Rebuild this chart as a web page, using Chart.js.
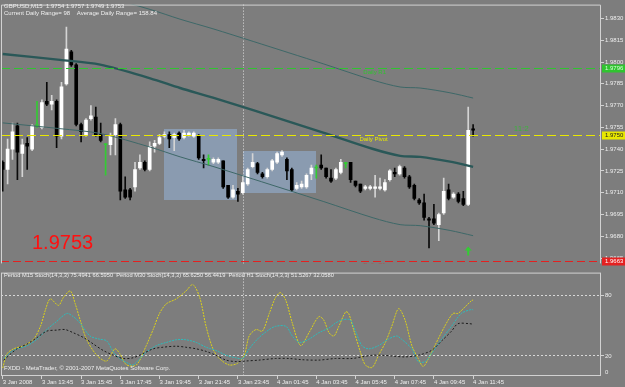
<!DOCTYPE html>
<html><head><meta charset="utf-8">
<script src="https://cdn.jsdelivr.net/npm/chart.js@4/dist/chart.umd.min.js"></script>
<style>
html,body{margin:0;padding:0;background:#7d7d7d;width:625px;height:387px;overflow:hidden}
#main{position:absolute;left:0;top:0}
#ind{position:absolute;left:0;top:268px}
</style></head><body>
<canvas id="main" width="625" height="268"></canvas>
<canvas id="ind" width="625" height="119"></canvas>
<script>
// ---------- DATA ----------
const symbol = 'GBPUSD,M15';
const rangeText = 'Current Daily Range= 98    Average Daily Range= 158.84';
const opens  = [1.9731,1.9726,1.9740,1.9756,1.9737,1.9744,1.9740,1.9756,1.9755,1.9773,1.9771,1.9773,1.9749,1.9785,1.9807,1.9798,1.9757,1.9750,1.9761,1.9762,1.9750,1.9743,1.9743,1.9750,1.9757,1.9712,1.9712,1.9714,1.9727,1.9731,1.9726,1.9742,1.9744,1.9749,1.9750,1.9748,1.9751,1.9748,1.9750,1.9749,1.9749,1.9733,1.9733,1.9731,1.9731,1.9732,1.9715,1.9707,1.9711,1.9710,1.9716,1.9728,1.9730,1.9723,1.9721,1.9726,1.9731,1.9736,1.9733,1.9726,1.9713,1.9714,1.9714,1.9723,1.9727,1.9729,1.9727,1.9720,1.9720,1.9724,1.9730,1.9731,1.9718,1.9716,1.9713,1.9713,1.9713,1.9713,1.9712,1.9719,1.9724,1.9723,1.9727,1.9721,1.9715,1.9705,1.9703,1.9692,1.9692,1.9688,1.9696,1.9712,1.9707,1.9709,1.9706,1.9702,1.9754];
const highs  = [1.9732,1.9747,1.9758,1.9758,1.9747,1.9748,1.9757,1.9773,1.9774,1.9786,1.9777,1.9774,1.9786,1.9824,1.9808,1.9799,1.9758,1.9761,1.9770,1.9769,1.9758,1.9744,1.9751,1.9761,1.9758,1.9721,1.9713,1.9731,1.9736,1.9732,1.9745,1.9746,1.9750,1.9752,1.9752,1.9751,1.9752,1.9753,1.9752,1.9752,1.9750,1.9736,1.9736,1.9734,1.9734,1.9732,1.9715,1.9715,1.9713,1.9722,1.9727,1.9737,1.9731,1.9724,1.9727,1.9733,1.9738,1.9739,1.9734,1.9727,1.9717,1.9718,1.9723,1.9729,1.9729,1.9736,1.9727,1.9726,1.9727,1.9733,1.9731,1.9731,1.9718,1.9716,1.9715,1.9715,1.9722,1.9720,1.9719,1.9726,1.9727,1.9729,1.9728,1.9722,1.9716,1.9706,1.9709,1.9693,1.9702,1.9696,1.9720,1.9716,1.9710,1.9710,1.9711,1.9769,1.9757];
const lows   = [1.9711,1.9716,1.9733,1.9719,1.9721,1.9726,1.9739,1.9755,1.9754,1.9770,1.9767,1.9741,1.9747,1.9784,1.9797,1.9756,1.9745,1.9749,1.9760,1.9749,1.9745,1.9722,1.9736,1.9736,1.9705,1.9706,1.9705,1.9711,1.9726,1.9725,1.9725,1.9738,1.9743,1.9748,1.9741,1.9739,1.9746,1.9747,1.9749,1.9748,1.9733,1.9727,1.9729,1.9730,1.9730,1.9713,1.9706,1.9706,1.9704,1.9709,1.9715,1.9727,1.9723,1.9720,1.9720,1.9725,1.9730,1.9735,1.9719,1.9711,1.9712,1.9713,1.9713,1.9719,1.9720,1.9726,1.9720,1.9717,1.9719,1.9723,1.9727,1.9717,1.9714,1.9710,1.9712,1.9712,1.9707,1.9712,1.9711,1.9718,1.9721,1.9722,1.9720,1.9713,1.9705,1.9702,1.9691,1.9672,1.9688,1.9677,1.9695,1.9705,1.9706,1.9703,1.9701,1.9701,1.9749];
const closes = [1.9726,1.9740,1.9752,1.9738,1.9743,1.9742,1.9756,1.9756,1.9772,1.9771,1.9773,1.9749,1.9783,1.9809,1.9798,1.9757,1.9752,1.9760,1.9763,1.9750,1.9746,1.9743,1.9749,1.9757,1.9711,1.9707,1.9707,1.9726,1.9731,1.9726,1.9742,1.9744,1.9748,1.9750,1.9747,1.9750,1.9747,1.9751,1.9751,1.9751,1.9734,1.9732,1.9733,1.9733,1.9733,1.9714,1.9707,1.9712,1.9709,1.9717,1.9726,1.9731,1.9724,1.9721,1.9726,1.9732,1.9737,1.9738,1.9725,1.9712,1.9715,1.9716,1.9722,1.9727,1.9727,1.9727,1.9721,1.9718,1.9726,1.9731,1.9730,1.9719,1.9715,1.9711,1.9714,1.9714,1.9714,1.9714,1.9717,1.9725,1.9723,1.9728,1.9721,1.9714,1.9706,1.9703,1.9693,1.9691,1.9689,1.9695,1.9711,1.9706,1.9709,1.9704,1.9702,1.9753,1.9753];

const timeLabels = ['3 Jan 2008','3 Jan 13:45','3 Jan 15:45','3 Jan 17:45','3 Jan 19:45','3 Jan 21:45','3 Jan 23:45','4 Jan 01:45','4 Jan 03:45','4 Jan 05:45','4 Jan 07:45','4 Jan 09:45','4 Jan 11:45'];
const labelBars  = [0,8,16,24,32,40,48,56,64,72,80,88,96];
const priceTicks = [1.9665,1.9680,1.9695,1.9710,1.9725,1.9740,1.9755,1.9770,1.9785,1.9800,1.9815,1.9830];

const envBars  = [0,11.7,19.9,30.1,36.2,42.9,51.1,65.4,75.6,81.1,85.2,91.3,96];
const envMid   = [1.98055,1.98015,1.97982,1.97888,1.97821,1.97755,1.97668,1.97514,1.97401,1.97354,1.97347,1.97314,1.97278];
const envUpper = [1.98529,1.98489,1.98456,1.98362,1.98295,1.98229,1.98142,1.97988,1.97875,1.97828,1.97821,1.97788,1.97752];
const envLower = [1.97581,1.97541,1.97508,1.97414,1.97347,1.97281,1.97194,1.97040,1.96927,1.96880,1.96873,1.96840,1.96804];

const pivotNames  = ['Daily R1','Daily Pivot','Daily S1'];
const pivotLevels = [1.9796,1.9750,1.9663];

const boxStartBar = [32.92,49.0];
const boxEndBar   = [47.88,63.94];
const boxHigh     = [1.97541,1.97387];
const boxLow      = [1.97047,1.97100];

const separatorBars = [49];
const signalBars   = [95];
const signalPrices = [1.9673];

const m15Bars = [0,0.9,2.2,4.3,6.3,7.7,8.7,9.7,11.4,12.4,13.8,14.8,15.8,17.1,19.2,21.2,22.9,23.9,25.3,27.3,29.3,30.7,32.0,33.4,35.4,37.4,38.8,40.2,41.5,42.9,44.2,46.2,47.9,49.3,50.3,51.7,53.0,54.4,55.7,56.7,57.8,59.1,60.8,62.5,64.5,65.5,66.6,67.6,68.6,70.0,70.6,71.6,73.0,74.0,75.4,76.7,78.1,79.4,80.8,82.1,83.5,84.8,85.8,86.9,88.2,90.2,91.9,92.9,94.3,95.7,96];
const m15Vals = [7.9,22.2,27,30.2,36.6,49.4,65.4,76.6,70.2,78.2,84.5,71.8,55.8,36.6,20.6,14.9,27,22.2,11,11,30.2,46.2,62.2,71.8,76.6,84.5,90.9,78.2,49.4,27,17.4,11,12.6,20.6,39.8,46.2,44.6,62.2,78.2,82.9,75,52.6,30.2,43,59,55.8,43,39.8,49.4,63.8,62.2,46.2,23.8,11,8.5,20.6,33.4,49.4,67,55.8,30.2,17.4,9.5,17.4,30.2,49.4,62.2,62.2,68.5,75,75.5];
const m30Bars = [0.2,2.2,5.0,7.0,9.0,11.0,13.1,14.4,15.8,17.8,19.8,21.2,22.6,23.9,25.6,26.6,28.0,29.3,31.4,33.4,35.4,37.4,39.5,41.5,43.5,45.6,47.6,49.0,50.3,52.3,54.4,55.7,57.8,59.1,60.5,62.5,64.5,66.6,67.9,69.3,70.9,72.0,73.3,74.7,76.7,78.7,80.4,81.4,83.5,84.8,86.2,87.5,89.6,91.6,93.6,95.7,96];
const m30Vals = [17.4,25.4,30.2,36.6,46.2,54.2,62.2,59,52.6,39.8,36.6,35,23.8,17.4,12.6,11,17.4,23.8,30.2,33.4,36,36,33.4,28.6,25.4,20.6,18.1,17.4,27,38.2,46.2,49.4,49.4,39.8,33.4,36.6,43,47.8,52.6,55.8,55.8,44.6,30.2,27,30.2,36.6,39.8,36.6,27,14.3,14.3,22.2,36.6,49.4,62.2,66.2,65.6];
const h1Bars  = [0.2,2.9,5.0,7.0,9.0,11.0,12.7,14.4,16.5,18.5,20.5,22.6,24.6,26.6,28.6,30.7,32.7,35.4,37.4,39.5,41.5,43.5,45.6,47.6,49.6,52.3,55.7,58.4,61.1,64.5,67.9,71.3,73.3,75.4,77.4,79.4,82.1,84.8,87.5,89.6,91.6,92.9,95.3,96];
const h1Vals  = [15.8,27,31.8,38.2,44.6,45.6,46.2,43,38.2,31.8,25.4,20.6,17.4,18.1,22.2,27,28.6,29.6,28.6,27,24.5,20.6,15.8,14.3,14.9,15.8,17.4,17.4,16.2,15.8,17.4,17.4,19,20.6,20.6,19.9,19,20.6,25.4,35,44.6,52,52,51.5];
const stochLevels = [80,20];
const stochHeader = 'Period M15 Stoch(14,3,3) 75.4941 66.5950  Period M30 Stoch(14,3,3) 65.6250 56.4419  Period H1 Stoch(14,3,3) 51.5267 32.0580';
const copyright = 'FXDD - MetaTrader, \u00A9 2001-2007 MetaQuotes Software Corp.';

// ---------- STYLE / LAYOUT ----------
const FONT = "'Liberation Sans', Arial, sans-serif";
const X_MIN = -0.347, X_MAX = 122.1;
const FRAME = '#d2d2d2';
const TXT = '#eeeeee';
const pivotColors = ['#30c430','#e8e800','#e42020'];
const pivotDash = [[9,4],[9,4],[8,4]];
const pivotBoxText = ['#d8ffd8','#202020','#ffffff'];
const annotations = [
  {text:'Daily R1', bar:73.6, price:pivotLevels[0], color:'#30c430', dy:1.5},
  {text:'Daily Pivot', bar:72.8, price:pivotLevels[1], color:'#e8e800', dy:1.5},
  {text:'Daily S1', bar:73.6, price:pivotLevels[2], color:'#e42020', dy:1.5}
];

const n = opens.length;
const kind = opens.map((o,i)=> closes[i]>o ? 'up' : (closes[i]<o ? 'down' : 'doji'));
const bodyData = opens.map((o,i)=>({x:i, y:[o, closes[i]]}));
const wickData = highs.map((h,i)=>({x:i, y:[lows[i], h]}));
const bodyColors = kind.map(k=> k==='up' ? '#ffffff' : (k==='down' ? '#000000' : '#33cc33'));
const wickColors = kind.map(k=> k==='up' ? '#d4d4d4' : (k==='down' ? '#0a0a0a' : '#33cc33'));
const pts = (xs, ys) => xs.map((b,i)=>({x:b, y:ys[i]}));

function drawSeparators(chart){
  const {ctx, chartArea:a, scales:{x}} = chart;
  ctx.save();
  ctx.strokeStyle = '#e2e2e2'; ctx.lineWidth = 1; ctx.setLineDash([1,2]);
  separatorBars.forEach(b=>{
    const px = Math.round(x.getPixelForValue(b)) + 0.5;
    ctx.beginPath(); ctx.moveTo(px, a.top); ctx.lineTo(px, a.bottom); ctx.stroke();
  });
  ctx.restore();
}

const mainDecor = {
  id:'mainDecor',
  beforeDatasetsDraw(chart){
    const {ctx, chartArea:a, scales:{x,y}} = chart;
    ctx.save();
    ctx.beginPath(); ctx.rect(a.left, a.top, a.right-a.left, a.bottom-a.top); ctx.clip();
    ctx.fillStyle = '#8a9bb0';
    for (let k=0;k<boxStartBar.length;k++){
      const x1 = Math.round(x.getPixelForValue(boxStartBar[k])), x2 = Math.round(x.getPixelForValue(boxEndBar[k]));
      const y1 = Math.round(y.getPixelForValue(boxHigh[k])), y2 = Math.round(y.getPixelForValue(boxLow[k]));
      ctx.fillRect(x1, y1, x2-x1, y2-y1);
    }
    ctx.restore();
    drawSeparators(chart);
  },
  afterDatasetsDraw(chart){
    const {ctx, chartArea:a, scales:{x,y}} = chart;
    ctx.save();
    ctx.beginPath(); ctx.rect(a.left, a.top, a.right-a.left, a.bottom-a.top); ctx.clip();
    ctx.lineWidth = 1;
    pivotLevels.forEach((v,i)=>{
      const py = Math.round(y.getPixelForValue(v)) + 0.5;
      ctx.strokeStyle = pivotColors[i]; ctx.setLineDash(pivotDash[i]);
      ctx.beginPath(); ctx.moveTo(a.left, py); ctx.lineTo(a.right, py); ctx.stroke();
    });
    ctx.setLineDash([]);
    ctx.font = '6px ' + FONT; ctx.textBaseline = 'top'; ctx.textAlign = 'left';
    annotations.forEach(t=>{
      ctx.fillStyle = t.color;
      ctx.fillText(t.text, x.getPixelForValue(t.bar), y.getPixelForValue(t.price) + t.dy);
    });
    ctx.font = '8px ' + FONT; ctx.fillStyle = '#3cb43c'; ctx.textBaseline = 'middle';
    ctx.fillText('11:2', x.getPixelForValue(104.3), y.getPixelForValue(1.97539));
    ctx.fillStyle = '#33cc33';
    signalBars.forEach((b,i)=>{
      const cx = x.getPixelForValue(b), cy = y.getPixelForValue(signalPrices[i]);
      ctx.beginPath();
      ctx.moveTo(cx, cy); ctx.lineTo(cx+3.5, cy+4); ctx.lineTo(cx+1, cy+4); ctx.lineTo(cx+1, cy+9);
      ctx.lineTo(cx-1, cy+9); ctx.lineTo(cx-1, cy+4); ctx.lineTo(cx-3.5, cy+4); ctx.closePath(); ctx.fill();
    });
    ctx.font = '20px ' + FONT; ctx.fillStyle = '#ff1010'; ctx.textBaseline = 'middle';
    ctx.fillText(closes[n-1].toFixed(4), 32, 243);
    ctx.restore();
  },
  afterDraw(chart){
    const {ctx, chartArea:a, scales:{y}} = chart;
    ctx.save();
    ctx.strokeStyle = FRAME; ctx.lineWidth = 1;
    ctx.beginPath();
    ctx.moveTo(a.left+0.5, a.bottom); ctx.lineTo(a.left+0.5, a.top+0.5);
    ctx.lineTo(a.right-0.5, a.top+0.5); ctx.lineTo(a.right-0.5, a.bottom);
    ctx.stroke();
    ctx.font = '6px ' + FONT; ctx.textBaseline = 'middle'; ctx.textAlign = 'left';
    pivotLevels.forEach((v,i)=>{
      const py = Math.round(y.getPixelForValue(v)) + 0.5;
      ctx.fillStyle = pivotColors[i];
      ctx.fillRect(a.right+1, py-4, 24, 8);
      ctx.fillStyle = pivotBoxText[i];
      ctx.fillText(v.toFixed(4), a.right+4, py);
    });
    ctx.fillStyle = TXT; ctx.textBaseline = 'middle';
    const last = n-1;
    ctx.fillText(symbol + '  ' + [opens[last],highs[last],lows[last],closes[last]].map(v=>v.toFixed(4)).join(' '), 4, 6);
    ctx.fillText(rangeText, 4, 13.5);
    ctx.restore();
  }
};

new Chart(document.getElementById('main'), {
  type:'bar',
  data:{datasets:[
    {type:'line', data:pts(envBars, envUpper), borderColor:'#3e6868', borderWidth:1, pointRadius:0, tension:0.3, order:1},
    {type:'line', data:pts(envBars, envMid), borderColor:'#2a5858', borderWidth:2.4, pointRadius:0, tension:0.3, order:1},
    {type:'line', data:pts(envBars, envLower), borderColor:'#3e6868', borderWidth:1, pointRadius:0, tension:0.3, order:1},
    {type:'bar', data:wickData, backgroundColor:wickColors, barThickness:1, grouped:false, borderWidth:0, order:3},
    {type:'bar', data:bodyData, backgroundColor:bodyColors, barThickness:3, grouped:false, borderWidth:0, minBarLength:1, order:2}
  ]},
  options:{
    responsive:false, animation:false, events:[],
    layout:{padding:{left:1,right:0,top:1,bottom:0}},
    plugins:{legend:{display:false}, tooltip:{enabled:false}},
    scales:{
      x:{type:'linear', min:X_MIN, max:X_MAX, offset:false, display:false},
      y:{position:'right', min:1.966131, max:1.983955,
         afterBuildTicks:s=>{ s.ticks = priceTicks.map(v=>({value:v})); },
         afterFit:s=>{ s.width = 24; },
         ticks:{color:TXT, font:{family:FONT, size:6}, padding:1, autoSkip:false, callback:v=>Number(v).toFixed(4)},
         grid:{display:true, drawOnChartArea:false, drawTicks:true, tickLength:3, color:FRAME, tickColor:FRAME},
         border:{display:false}}
    }
  },
  plugins:[mainDecor]
});

const indDecor = {
  id:'indDecor',
  beforeDatasetsDraw(chart){ drawSeparators(chart); },
  afterDraw(chart){
    const {ctx, chartArea:a} = chart;
    ctx.save();
    ctx.strokeStyle = FRAME; ctx.lineWidth = 1;
    ctx.strokeRect(a.left+0.5, a.top+0.5, a.right-a.left-1, a.bottom-a.top-1);
    ctx.font = '5.7px ' + FONT; ctx.fillStyle = TXT; ctx.textBaseline = 'middle'; ctx.textAlign = 'left';
    ctx.fillText(stochHeader, 4, 7.5);
    ctx.font = '6px ' + FONT;
    ctx.fillText(copyright, 4, 100.8);
    ctx.fillText('0', a.right+4, a.bottom-4);
    ctx.restore();
  }
};

new Chart(document.getElementById('ind'), {
  type:'line',
  data:{datasets:[
    {data:pts(h1Bars, h1Vals), borderColor:'#1c1c1c', borderWidth:1, borderDash:[2,2], pointRadius:0, tension:0.3},
    {data:pts(m30Bars, m30Vals), borderColor:'#2cbcbc', borderWidth:1, borderDash:[2,1], pointRadius:0, tension:0.3},
    {data:pts(m15Bars, m15Vals), borderColor:'#dcd21a', borderWidth:1, borderDash:[2,1], pointRadius:0, tension:0.3}
  ]},
  options:{
    responsive:false, animation:false, events:[],
    layout:{padding:{left:1,right:0,top:1,bottom:0}},
    plugins:{legend:{display:false}, tooltip:{enabled:false}},
    scales:{
      x:{type:'linear', min:X_MIN, max:X_MAX, offset:false,
         afterBuildTicks:s=>{ s.ticks = labelBars.map(v=>({value:v})); },
         afterFit:s=>{ s.height = 11; },
         ticks:{color:TXT, font:{family:FONT, size:6}, padding:0, align:'start', maxRotation:0, autoSkip:false,
                callback:v=>{ const k = labelBars.indexOf(v); return k>=0 ? timeLabels[k] : ''; }},
         grid:{display:true, drawOnChartArea:false, drawTicks:true, tickLength:3, color:FRAME, tickColor:FRAME},
         border:{display:false}},
      y:{position:'right', min:0, max:102.8,
         afterBuildTicks:s=>{ s.ticks = stochLevels.map(v=>({value:v})); },
         afterFit:s=>{ s.width = 24; },
         ticks:{color:TXT, font:{family:FONT, size:6}, padding:1, autoSkip:false, callback:v=>String(v)},
         grid:{display:true, drawOnChartArea:true, drawTicks:true, tickLength:3, color:'#d8d8d8', tickColor:FRAME},
         border:{display:false, dash:[2,2]}}
    }
  },
  plugins:[indDecor]
});
</script>
</body></html>
